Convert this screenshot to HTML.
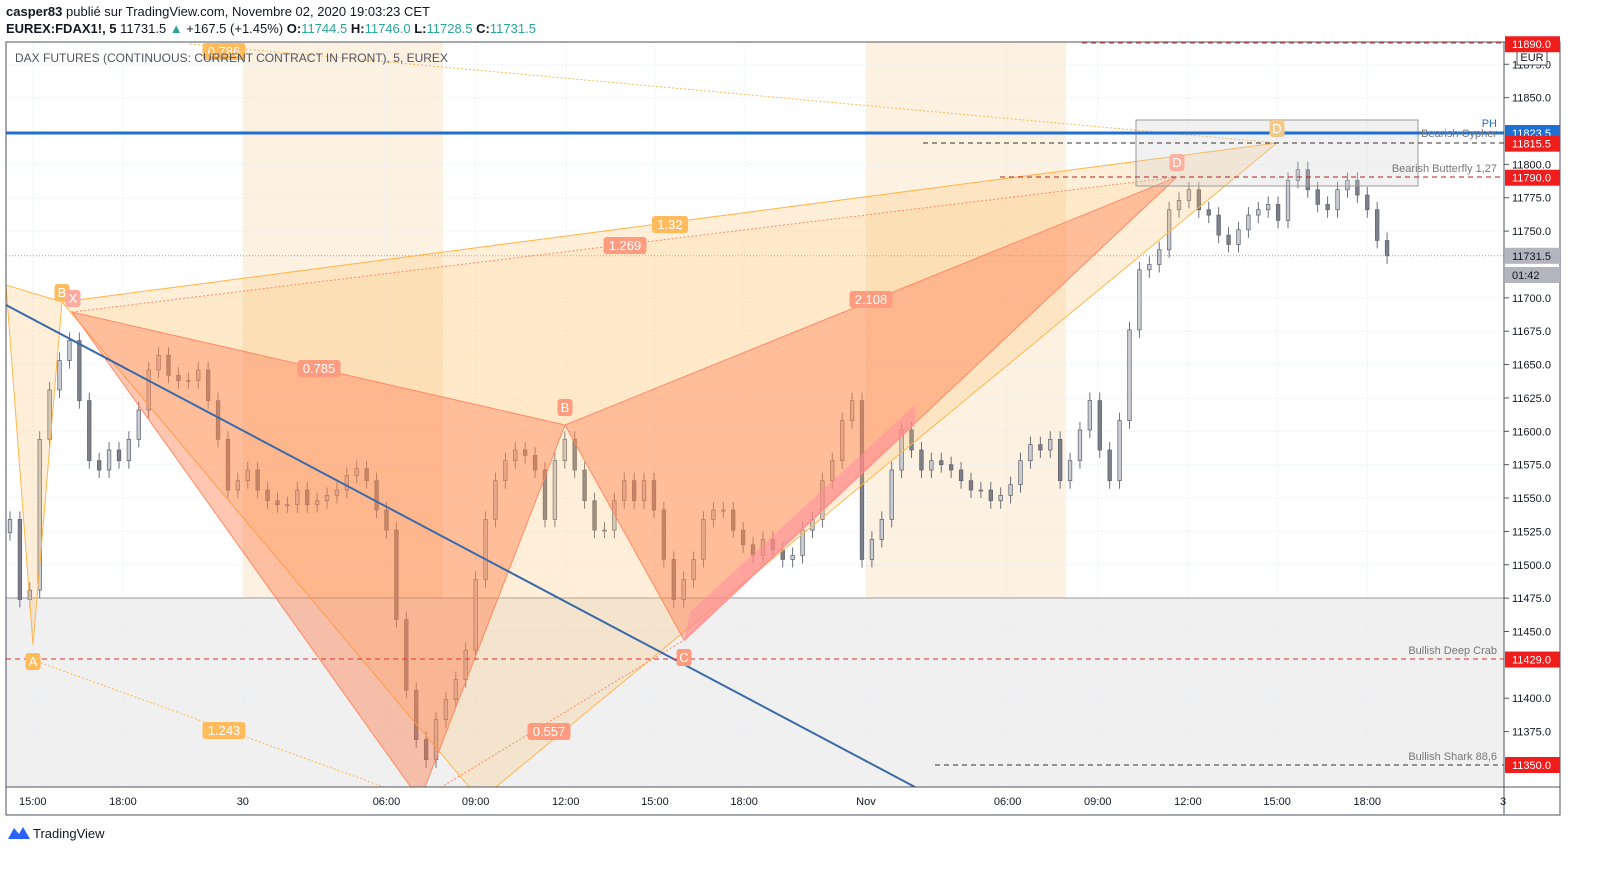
<!DOCTYPE html>
<html><head><meta charset="utf-8"><style>
body{margin:0;background:#fff;width:1624px;height:881px;overflow:hidden;font-family:"Liberation Sans",sans-serif}
.hdr{position:absolute;left:6px;font-size:13px;color:#131722;white-space:nowrap}
.g{color:#26a69a}
</style></head><body>
<div class="hdr" style="top:4px"><b>casper83</b> publié sur TradingView.com, Novembre 02, 2020 19:03:23 CET</div>
<div class="hdr" style="top:21px"><b>EUREX:FDAX1!, 5</b> 11731.5 <span class="g">▲</span> +167.5 (+1.45%) <b>O:</b><span class="g">11744.5</span> <b>H:</b><span class="g">11746.0</span> <b>L:</b><span class="g">11728.5</span> <b>C:</b><span class="g">11731.5</span></div>
<svg id="chart" width="1624" height="881" style="position:absolute;left:0;top:0">
<defs><clipPath id="clip"><rect x="6" y="42" width="1498" height="745"/></clipPath></defs>
<g id="bg" clip-path="url(#clip)"></g>
<g id="candles" clip-path="url(#clip)"></g>
<g id="draw" clip-path="url(#clip)"></g>
<g id="axis"></g>
</svg>
<script>
const closes=[11534,11474,11481,11594,11631,11653,11668,11623,11578,11571,11586,11578,11594,11616,11646,11657,11642,11638,11638,11646,11623,11594,11556,11563,11571,11556,11548,11545,11545,11556,11545,11548,11552,11556,11567,11572,11563,11541,11526,11459,11406,11369,11354,11384,11399,11414,11436,11489,11534,11563,11578,11586,11582,11571,11534,11578,11594,11571,11548,11526,11526,11548,11563,11548,11563,11541,11504,11474,11489,11504,11534,11541,11541,11526,11515,11507,11519,11511,11504,11507,11526,11534,11563,11578,11608,11623,11504,11519,11534,11571,11601,11586,11571,11578,11575,11571,11563,11556,11556,11548,11552,11560,11578,11590,11586,11594,11563,11578,11601,11623,11586,11563,11608,11676,11721,11725,11736,11766,11773,11781,11766,11762,11747,11740,11751,11762,11766,11770,11758,11788,11796,11781,11770,11766,11781,11788,11777,11766,11743,11731.5];
const priceTicks=[11875,11850,11800,11775,11750,11700,11675,11650,11625,11600,11575,11550,11525,11500,11475,11450,11400,11375];
const timeLabels=["15:00","18:00","30","06:00","09:00","12:00","15:00","18:00","Nov","06:00","09:00","12:00","15:00","18:00"];
const timeBars=[2.3,11.4,23.5,38,47,56.1,65.1,74.1,86.4,100.7,109.8,118.9,127.9,137];
const badges=[[11890,"11890.0","#f01d1d","#fff"],[11823.5,"11823.5","#1e6fd0","#fff"],[11815.5,"11815.5","#f01d1d","#fff"],[11790,"11790.0","#f01d1d","#fff"],[11731.5,"11731.5","#b2b5be","#131722"],[11429,"11429.0","#f01d1d","#fff"],[11350,"11350.0","#f01d1d","#fff"]];
const NS="http://www.w3.org/2000/svg";
function Y(p){return 133+(11823.5-p)*1.3347;}
function X(i){return 10+i*9.907;}
function mk(parent,tag,attrs,name,text){const e=document.createElementNS(NS,tag);for(const k in attrs)e.setAttribute(k,attrs[k]);


if(text!==undefined)e.textContent=text;document.getElementById(parent).appendChild(e);return e;}
// background
mk('bg','rect',{x:243,y:42,width:200,height:745,fill:'#fdf1e2'},'session-band');
mk('bg','rect',{x:866,y:42,width:200,height:745,fill:'#fdf1e2'},'session-band');
mk('bg','rect',{x:6,y:598,width:1498,height:189,fill:'#f0f0f0'},'bullish-zone');
priceTicks.forEach(p=>mk('bg','line',{x1:6,x2:1504,y1:Y(p),y2:Y(p),stroke:'#dde6ee','stroke-dasharray':'1 3'},'grid-h'));
timeBars.forEach(b=>mk('bg','line',{x1:X(b),x2:X(b),y1:42,y2:787,stroke:'#dde6ee','stroke-dasharray':'1 3'},'grid-v'));
mk('bg','line',{x1:6,x2:1504,y1:598,y2:598,stroke:'#9a9a9a'},'zone-top-line');
// candles
for(let i=0;i<closes.length;i++){const o=i?closes[i-1]:closes[0]-10,c=closes[i];
const hi=Math.max(o,c)+6,lo=Math.min(o,c)-6,x=X(i);
mk('candles','line',{x1:x,x2:x,y1:Y(hi),y2:Y(lo),stroke:'#5d606b','stroke-width':0.9},'candle-wick');
mk('candles','rect',{x:x-1.8,y:Y(Math.max(o,c)),width:3.6,height:Math.max(1,Math.abs(Y(o)-Y(c))),fill:c>=o?'#c9ccd3':'#7d808a',stroke:'#5d606b','stroke-width':0.7},'candle-body');}
mk('candles','line',{x1:6,x2:1504,y1:Y(11731.5),y2:Y(11731.5),stroke:'#999','stroke-dasharray':'1 2'},'last-price-line');
// drawings
const P=(a)=>a.map(p=>p.join(',')).join(' ');
mk('draw','polygon',{points:P([[6,285],[33,645],[62,302]]),fill:'rgba(255,183,77,0.22)',stroke:'#ffb74d'},'cypher-xab');
mk('draw','polygon',{points:P([[62,302],[480,800],[1277,143]]),fill:'rgba(255,190,100,0.25)',stroke:'#ffb74d'},'cypher-bcd');
mk('draw','polygon',{points:P([[72,312],[565,425],[1177,177]]),fill:'rgba(255,190,100,0.12)'},'butterfly-xbd');
mk('draw','polygon',{points:P([[72,312],[420,800],[565,425]]),fill:'rgba(255,120,70,0.42)',stroke:'#ff8a65'},'butterfly-xab');
mk('draw','polygon',{points:P([[565,425],[684,640],[1177,177]]),fill:'rgba(255,120,70,0.42)',stroke:'#ff8a65'},'butterfly-bcd');
mk('draw','polygon',{points:P([[684,642],[690,612],[915,405],[915,425]]),fill:'rgba(255,140,160,0.5)'},'pink-leg');
mk('draw','line',{x1:62,y1:302,x2:1277,y2:143,stroke:'#ffb74d','stroke-dasharray':'2 2'},'cypher-xd');
mk('draw','line',{x1:72,y1:312,x2:1177,y2:177,stroke:'#ff8a65','stroke-dasharray':'2 2'},'butterfly-xd');
mk('draw','line',{x1:190,y1:44,x2:1277,y2:143,stroke:'#ffb74d','stroke-dasharray':'2 2'},'cypher-0786');
mk('draw','line',{x1:33,y1:660,x2:420,y2:800,stroke:'#ffb74d','stroke-dasharray':'2 2'},'cypher-ac');
mk('draw','line',{x1:420,y1:800,x2:684,y2:640,stroke:'#ff8a65','stroke-dasharray':'2 2'},'butterfly-ac');
mk('draw','line',{x1:6,y1:305,x2:915,y2:787,stroke:'#3a6aa8','stroke-width':2},'trend-line');
mk('draw','rect',{x:1136,y:120,width:282,height:66,fill:'rgba(210,210,210,0.3)',stroke:'#999'},'prz-box');
mk('draw','line',{x1:6,x2:1504,y1:133,y2:133,stroke:'#1e6fd0','stroke-width':3},'ph-line');
[[1082,43,'#e03030'],[923,143,'#333'],[1000,177,'#b02020'],[6,659,'#e03030'],[935,765,'#333']].forEach(d=>
mk('draw','line',{x1:d[0],x2:1504,y1:d[1],y2:d[1],stroke:d[2],'stroke-dasharray':'5 4'},'level-line'));
const lab=(x,y,t,c,n)=>{const w=t.length*7+8;mk('draw','rect',{x:x-w/2,y:y-8,width:w,height:17,rx:3,fill:c},n+'-bg');
mk('draw','text',{x:x,y:y+5,'text-anchor':'middle','font-size':13,fill:'#fff','font-family':'Liberation Sans'},n,t);};
const OR='#ffbb5c',SA='#ff9c80';
lab(224,51,'0.786',OR,'ratio-0786');lab(670,224,'1.32',OR,'ratio-132');lab(625,245,'1.269',SA,'ratio-1269');
lab(319,368,'0.785',SA,'ratio-0785');lab(871,299,'2.108',SA,'ratio-2108');lab(224,730,'1.243',OR,'ratio-1243');lab(549,731,'0.557',SA,'ratio-0557');
lab(62,292,'B',OR,'point-b');lab(73,298,'X','#ffaaa0','point-x');lab(33,661,'A',OR,'point-a');lab(565,407,'B',SA,'point-b2');
lab(684,657,'C',SA,'point-c');lab(1177,162,'D','#fbb0a0','point-d');lab(1277,128,'D','#f5c98a','point-d2');
const tx=(x,y,t,c,n,a)=>mk('draw','text',{x:x,y:y,'font-size':11,fill:c,'text-anchor':a||'end','font-family':'Liberation Sans'},n,t);
tx(1497,137,'Bearish Cypher','#777','label-cypher');tx(1497,127,'PH','#1e6fd0','label-ph');
tx(1497,172,'Bearish Butterfly 1,27','#777','label-butterfly');tx(1497,654,'Bullish Deep Crab','#777','label-crab');tx(1497,760,'Bullish Shark 88,6','#777','label-shark');
mk('draw','text',{x:15,y:62,'font-size':12,fill:'#50535e','font-family':'Liberation Sans'},'chart-title','DAX FUTURES (CONTINUOUS: CURRENT CONTRACT IN FRONT), 5, EUREX');
// axes
mk('axis','rect',{x:6,y:42,width:1554,height:773,fill:'none',stroke:'#50535e'},'chart-frame');
mk('axis','line',{x1:1504,x2:1504,y1:42,y2:815,stroke:'#50535e'},'price-axis-line');
mk('axis','line',{x1:6,x2:1560,y1:787,y2:787,stroke:'#50535e'},'time-axis-line');
priceTicks.forEach(p=>{mk('axis','line',{x1:1504,x2:1509,y1:Y(p),y2:Y(p),stroke:'#50535e'},'price-tick');
mk('axis','text',{x:1512,y:Y(p)+4,'font-size':11,fill:'#131722','font-family':'Liberation Sans'},'price-tick-label',p.toFixed(1));});
timeBars.forEach((b,i)=>mk('axis','text',{x:X(b),y:805,'font-size':11,fill:'#131722','text-anchor':'middle','font-family':'Liberation Sans'},'time-tick-label',timeLabels[i]));
mk('axis','text',{x:1500,y:805,'font-size':11,fill:'#131722','font-family':'Liberation Sans'},'time-tick-label','3');
mk('axis','rect',{x:1517,y:49,width:30,height:16,fill:'#fff',stroke:'#50535e'},'currency-box');
mk('axis','text',{x:1532,y:61,'font-size':11,'text-anchor':'middle',fill:'#131722','font-family':'Liberation Sans'},'currency-label','EUR');
badges.forEach(b=>{const y=Y(b[0]);mk('axis','rect',{x:1505,y:y-8,width:55,height:16,fill:b[2]},'price-badge');
mk('axis','text',{x:1512,y:y+4,'font-size':11,fill:b[3],'font-family':'Liberation Sans'},'price-badge-label',b[1]);});
mk('axis','rect',{x:1505,y:267,width:55,height:16,fill:'#b2b5be'},'countdown-badge');
mk('axis','text',{x:1512,y:279,'font-size':11,fill:'#131722','font-family':'Liberation Sans'},'countdown-label','01:42');
mk('axis','path',{d:'M8 839 L14 828 L19 834 L23 827 L30 839 Z',fill:'#2962ff'},'tradingview-logo');
mk('axis','text',{x:33,y:838,'font-size':13,fill:'#131722','font-family':'Liberation Sans'},'tradingview-brand','TradingView');
</script>
</body></html>
